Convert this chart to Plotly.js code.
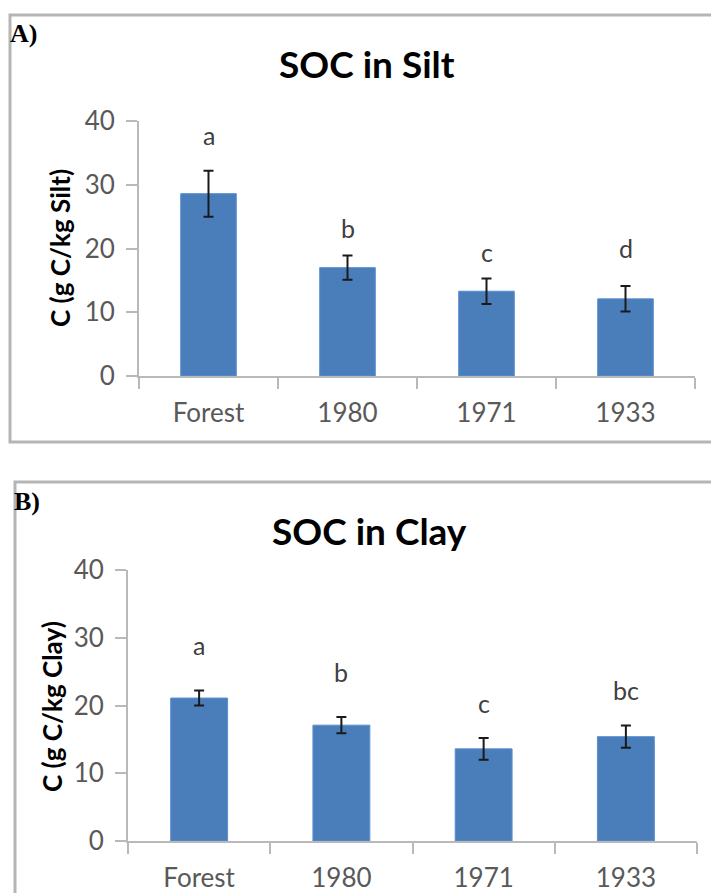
<!DOCTYPE html>
<html>
<head>
<meta charset="utf-8">
<script src="https://cdn.plot.ly/plotly-3.0.1.min.js"></script>
<style>
  html, body { margin: 0; padding: 0; background: #ffffff; }
  #chart { width: 711px; height: 893px; }
</style>
</head>
<body>
<div id="chart"></div>
<script>
// Soil organic carbon by land use (forest vs. cultivation start year)
const categories = ['Forest', '1980', '1971', '1933'];

// Panel A: SOC in silt fraction (g C / kg silt)
const siltMean = [28.6, 17.0, 13.3, 12.1];
const siltErr  = [3.6, 1.9, 2.0, 2.0];
const siltLetters = ['a', 'b', 'c', 'd'];
const siltLetterY = [37.8, 23.2, 19.4, 20.1];

// Panel B: SOC in clay fraction (g C / kg clay)
const clayMean = [21.1, 17.1, 13.6, 15.4];
const clayErr  = [1.1, 1.2, 1.6, 1.65];
const clayLetters = ['a', 'b', 'c', 'bc'];
const clayLetterY = [28.9, 24.9, 20.4, 22.3];

const yTicks = [0, 10, 20, 30, 40];

const W = 711, H = 893;
const px = v => v / W;
const py = v => 1 - v / H;

const FONT = 'Lato, "Open Sans", sans-serif';
const BAR = '#4a7ebb';
const AXIS = '#b9b9b9';
const TICKTXT = '#595959';

function barTrace(y, err, xa, ya) {
  return {
    type: 'bar',
    x: categories,
    y: y,
    xaxis: xa,
    yaxis: ya,
    width: 0.4,
    marker: { color: BAR, line: { color: '#5b8fd0', width: 1 } },
    error_y: { type: 'data', array: err, visible: true, color: '#1a1a1a', thickness: 2, width: 5 },
    hoverinfo: 'x+y',
    showlegend: false
  };
}

function xAxis(domain, anchor) {
  return {
    domain: domain,
    anchor: anchor,
    type: 'category',
    range: [-0.5, 3.5],
    showline: true, linecolor: AXIS, linewidth: 2,
    ticks: 'outside', tickson: 'boundaries', ticklen: 11, tickwidth: 2, tickcolor: AXIS,
    showgrid: false, zeroline: false,
    tickfont: { family: FONT, size: 26, color: TICKTXT },
    ticklabelstandoff: 13,
    fixedrange: true
  };
}

function yAxis(domain, anchor) {
  return {
    domain: domain,
    anchor: anchor,
    range: [0, 40],
    tickvals: yTicks,
    showline: true, linecolor: AXIS, linewidth: 2,
    ticks: 'outside', ticklen: 11, tickwidth: 2, tickcolor: AXIS,
    showgrid: false, zeroline: false,
    tickfont: { family: FONT, size: 26, color: TICKTXT },
    ticklabelstandoff: 6,
    fixedrange: true
  };
}

// significance letters above each bar (x given as category index)
function letterNotes(letters, ys, xref, yref) {
  return letters.map((t, i) => ({
    x: i, y: ys[i], xref: xref, yref: yref,
    text: t, showarrow: false,
    font: { family: FONT, size: 25, color: '#404040' }
  }));
}

const data = [
  barTrace(siltMean, siltErr, 'x', 'y'),
  barTrace(clayMean, clayErr, 'x2', 'y2')
];

const annotations = [
  // panel tags
  { x: px(8), y: py(33), xref: 'paper', yref: 'paper', xanchor: 'left', yanchor: 'middle',
    text: '<b>A)</b>', showarrow: false,
    font: { family: '"Liberation Serif", "DejaVu Serif", serif', size: 26, color: '#000' } },
  { x: px(12), y: py(501), xref: 'paper', yref: 'paper', xanchor: 'left', yanchor: 'middle',
    text: '<b>B)</b>', showarrow: false,
    font: { family: '"Liberation Serif", "DejaVu Serif", serif', size: 26, color: '#000' } },
  // panel titles
  { x: px(367), y: py(63), xref: 'paper', yref: 'paper', xanchor: 'center', yanchor: 'middle',
    text: '<b>SOC in Silt</b>', showarrow: false,
    font: { family: FONT, size: 37, color: '#000' } },
  { x: px(369), y: py(530), xref: 'paper', yref: 'paper', xanchor: 'center', yanchor: 'middle',
    text: '<b>SOC in Clay</b>', showarrow: false,
    font: { family: FONT, size: 37, color: '#000' } },
  // y axis titles
  { x: px(60), y: py(248), xref: 'paper', yref: 'paper', xanchor: 'center', yanchor: 'middle',
    text: '<b>C (g C/kg Silt)</b>', textangle: -90, showarrow: false,
    font: { family: FONT, size: 26, color: '#000' } },
  { x: px(52), y: py(707), xref: 'paper', yref: 'paper', xanchor: 'center', yanchor: 'middle',
    text: '<b>C (g C/kg Clay)</b>', textangle: -90, showarrow: false,
    font: { family: FONT, size: 26, color: '#000' } }
].concat(letterNotes(siltLetters, siltLetterY, 'x', 'y'))
 .concat(letterNotes(clayLetters, clayLetterY, 'x2', 'y2'));

const frame = { color: '#b5b5b5', width: 3 };
const shapes = [
  { type: 'rect', xref: 'paper', yref: 'paper', x0: px(10), x1: px(730), y0: py(442), y1: py(15), line: frame, layer: 'below' },
  { type: 'rect', xref: 'paper', yref: 'paper', x0: px(15), x1: px(730), y0: py(920), y1: py(482), line: frame, layer: 'below' }
];

const layout = {
  width: W, height: H,
  margin: { l: 0, r: 0, t: 0, b: 0 },
  paper_bgcolor: '#ffffff', plot_bgcolor: 'rgba(0,0,0,0)',
  showlegend: false,
  bargap: 0.6,
  xaxis: xAxis([px(139), px(695)], 'y'),
  yaxis: yAxis([py(376), py(121)], 'x'),
  xaxis2: xAxis([px(128), px(697)], 'y2'),
  yaxis2: yAxis([py(841), py(570)], 'x2'),
  annotations: annotations,
  shapes: shapes
};

Plotly.newPlot('chart', data, layout, { displayModeBar: false, staticPlot: true });
</script>
</body>
</html>
